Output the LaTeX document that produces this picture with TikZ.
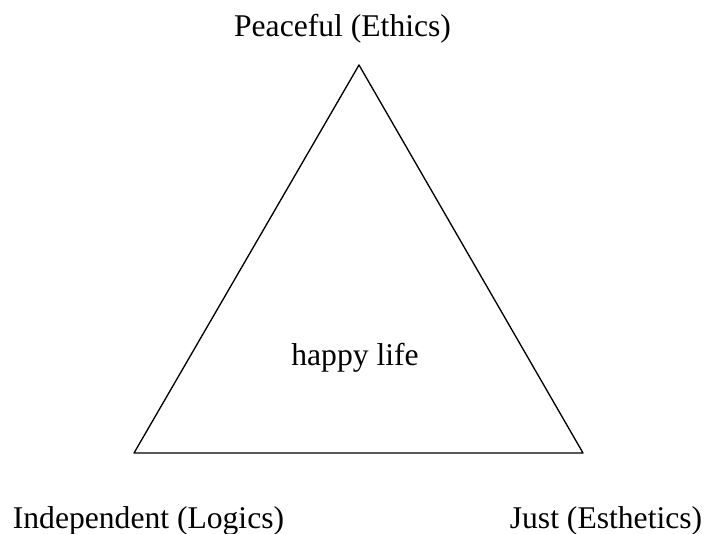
\documentclass[tikz,border=0pt]{standalone}
\usepackage{fontspec}
\setmainfont{Liberation Serif}
\usepackage{tkz-euclide}
\usetikzlibrary{calc}

\begin{document}
\begin{tikzpicture}
                \useasboundingbox (0,0) rectangle (18.654,14.103);
                \tikzset{lbl/.style={font=\fontsize{23.8}{28}\selectfont,inner sep=0pt,anchor=base}}

                \tkzDefPoint(9.499,12.383){P}
                \tkzDefPoint(3.546,2.117){I}
                \tkzDefPoint(15.426,2.117){J}

                \tkzDrawPolygon[line width=1pt](P,I,J)

                \node[lbl] (peace) at (9.063,13.124) {Peaceful (Ethics)};
                \node[lbl] (happy) at (9.393,4.445) {happy life};
                \node[lbl] (indep) at (3.929,0.132) {Independent (Logics)};
                \node[lbl] (just) at (16.035,0.132) {Just (Esthetics)};
            \end{tikzpicture}
\end{document}
